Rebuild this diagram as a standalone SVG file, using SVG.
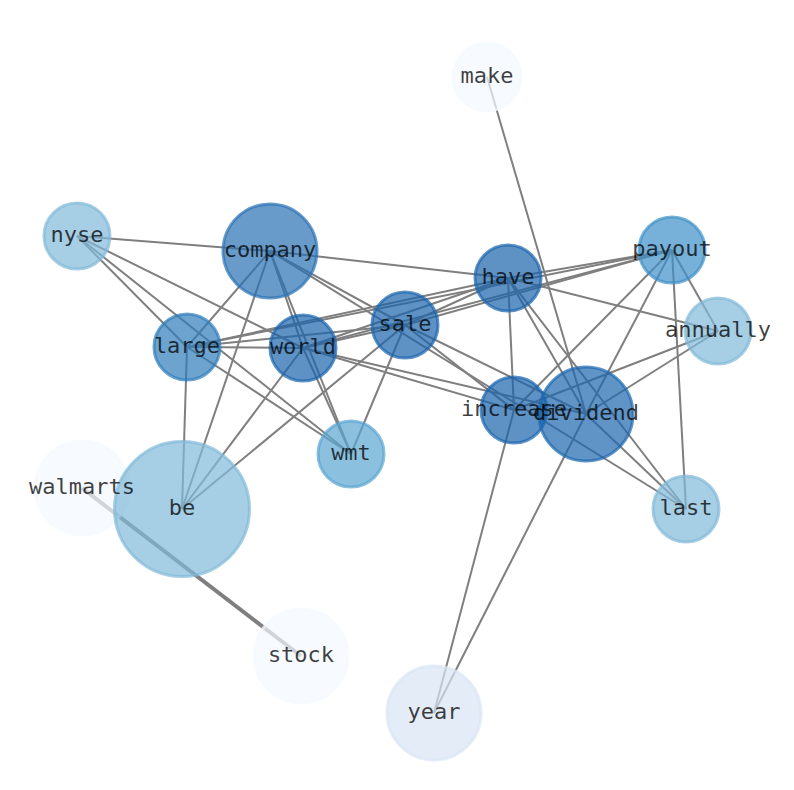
<svg xmlns="http://www.w3.org/2000/svg" width="794" height="790" viewBox="0 0 794 790">
<style>
.e{stroke:#7f7f7f;stroke-width:2;fill:none}
.n circle{stroke-width:3;fill-opacity:0.7;stroke-opacity:0.7}
.lb text{font-family:"DejaVu Sans Mono","Liberation Mono",monospace;font-size:22px;text-anchor:middle;fill:#000;fill-opacity:0.75}
</style>
<rect width="794" height="790" fill="#ffffff"/>
<g id="edges" class="e">
<line x1="487" y1="77" x2="586" y2="414"/>
<line x1="82" y1="488" x2="301" y2="656" style="stroke-width:4"/>
<line x1="434" y1="713" x2="514" y2="410"/>
<line x1="434" y1="713" x2="586" y2="414"/>
<line x1="77" y1="236" x2="270" y2="251"/>
<line x1="77" y1="236" x2="303" y2="348"/>
<line x1="77" y1="236" x2="187" y2="347"/>
<line x1="77" y1="236" x2="351" y2="454"/>
<line x1="270" y1="251" x2="508" y2="278"/>
<line x1="270" y1="251" x2="187" y2="347"/>
<line x1="270" y1="251" x2="182" y2="509"/>
<line x1="270" y1="251" x2="303" y2="348"/>
<line x1="270" y1="251" x2="351" y2="454"/>
<line x1="270" y1="251" x2="405" y2="325"/>
<line x1="270" y1="251" x2="686" y2="509"/>
<line x1="187" y1="347" x2="303" y2="348"/>
<line x1="187" y1="347" x2="508" y2="278"/>
<line x1="187" y1="347" x2="672" y2="250"/>
<line x1="187" y1="347" x2="405" y2="325"/>
<line x1="187" y1="347" x2="351" y2="454"/>
<line x1="187" y1="347" x2="182" y2="509"/>
<line x1="303" y1="348" x2="351" y2="454"/>
<line x1="303" y1="348" x2="182" y2="509"/>
<line x1="303" y1="348" x2="508" y2="278"/>
<line x1="303" y1="348" x2="672" y2="250"/>
<line x1="303" y1="348" x2="405" y2="325"/>
<line x1="303" y1="348" x2="514" y2="410"/>
<line x1="303" y1="348" x2="586" y2="414"/>
<line x1="405" y1="325" x2="508" y2="278"/>
<line x1="405" y1="325" x2="672" y2="250"/>
<line x1="405" y1="325" x2="514" y2="410"/>
<line x1="405" y1="325" x2="586" y2="414"/>
<line x1="405" y1="325" x2="182" y2="509"/>
<line x1="405" y1="325" x2="351" y2="454"/>
<line x1="508" y1="278" x2="672" y2="250"/>
<line x1="508" y1="278" x2="718" y2="331"/>
<line x1="508" y1="278" x2="514" y2="410"/>
<line x1="508" y1="278" x2="586" y2="414"/>
<line x1="508" y1="278" x2="686" y2="509"/>
<line x1="672" y1="250" x2="718" y2="331"/>
<line x1="672" y1="250" x2="514" y2="410"/>
<line x1="672" y1="250" x2="586" y2="414"/>
<line x1="672" y1="250" x2="686" y2="509"/>
<line x1="718" y1="331" x2="514" y2="410"/>
<line x1="718" y1="331" x2="586" y2="414"/>
<line x1="586" y1="414" x2="686" y2="509"/>
</g>
<g id="nodes" class="n">
<g id="node-make"><circle cx="487" cy="77" r="34" fill="#f4f9ff" stroke="#f4f9ff"/></g>
<g id="node-nyse"><circle cx="77" cy="236" r="33" fill="#80b9d9" stroke="#80b9d9"/></g>
<g id="node-company"><circle cx="270" cy="251" r="47" fill="#2a70b3" stroke="#2a70b3"/></g>
<g id="node-have"><circle cx="508" cy="278" r="33" fill="#1a64ad" stroke="#1a64ad"/></g>
<g id="node-payout"><circle cx="672" cy="250" r="33" fill="#3d8fc7" stroke="#3d8fc7"/></g>
<g id="node-annually"><circle cx="718" cy="331" r="33" fill="#80b9d9" stroke="#80b9d9"/></g>
<g id="node-sale"><circle cx="405" cy="325" r="33" fill="#1a64ad" stroke="#1a64ad"/></g>
<g id="node-large"><circle cx="187" cy="347" r="33" fill="#2d7cbb" stroke="#2d7cbb"/></g>
<g id="node-world"><circle cx="303" cy="348" r="33" fill="#1a64ad" stroke="#1a64ad"/></g>
<g id="node-increase"><circle cx="514" cy="410" r="33" fill="#1a64ad" stroke="#1a64ad"/></g>
<g id="node-dividend"><circle cx="586" cy="414" r="47" fill="#1c66ae" stroke="#1c66ae"/></g>
<g id="node-wmt"><circle cx="351" cy="454" r="33" fill="#5aa5d2" stroke="#5aa5d2"/></g>
<g id="node-last"><circle cx="686" cy="509" r="33" fill="#80b9d9" stroke="#80b9d9"/></g>
<g id="node-walmarts"><circle cx="82" cy="488" r="47" fill="#f4f9ff" stroke="#f4f9ff"/></g>
<g id="node-be"><circle cx="182" cy="509" r="67.5" fill="#80b9d9" stroke="#80b9d9"/></g>
<g id="node-stock"><circle cx="301" cy="656" r="47" fill="#f4f9ff" stroke="#f4f9ff"/></g>
<g id="node-year"><circle cx="434" cy="713" r="47" fill="#d8e5f4" stroke="#d8e5f4"/></g>
</g>
<g id="labels" class="lb">
<text x="487" y="83">make</text>
<text x="77" y="242">nyse</text>
<text x="270" y="257">company</text>
<text x="508" y="284">have</text>
<text x="672" y="256">payout</text>
<text x="718" y="337">annually</text>
<text x="405" y="331">sale</text>
<text x="187" y="353">large</text>
<text x="303" y="354">world</text>
<text x="514" y="416">increase</text>
<text x="586" y="420">dividend</text>
<text x="351" y="460">wmt</text>
<text x="686" y="515">last</text>
<text x="82" y="494">walmarts</text>
<text x="182" y="515">be</text>
<text x="301" y="662">stock</text>
<text x="434" y="719">year</text>
</g>
</svg>
